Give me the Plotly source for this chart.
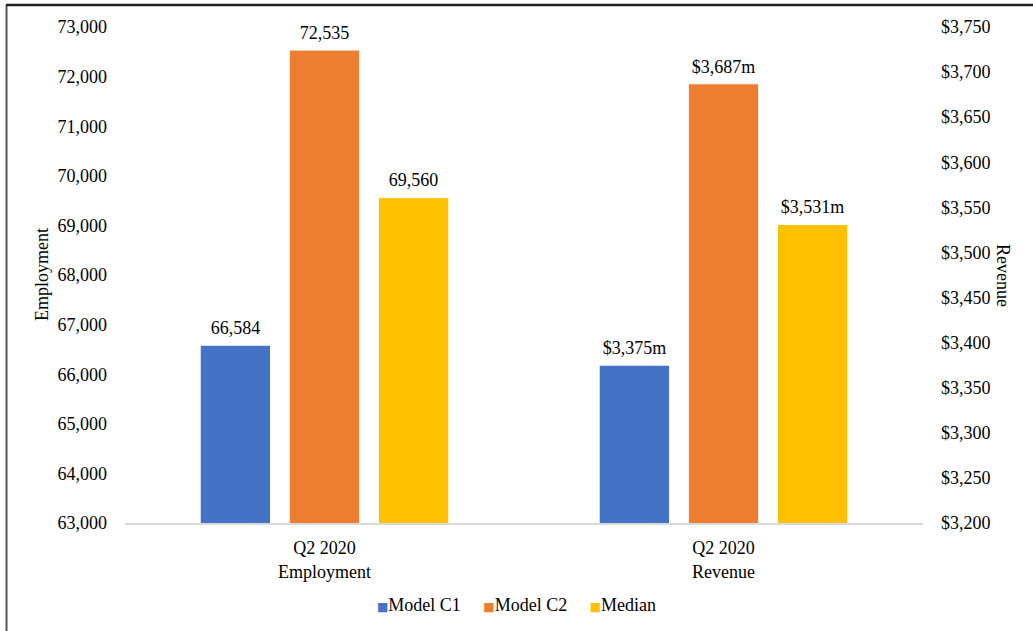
import plotly.graph_objects as go

series = ["Model C1", "Model C2", "Median"]
colors = ["#4472C4", "#ED7D31", "#FFC000"]
employment = [66584, 72535, 69560]
revenue = [3375, 3687, 3531]
cat_emp = "Q2 2020<br>Employment"
cat_rev = "Q2 2020<br>Revenue"

font = "Liberation Serif, Times New Roman, serif"
FS = 18

fig = go.Figure()
groups = [(cat_emp, employment, "y", "{:,}"), (cat_rev, revenue, "y2", "${:,}m")]
for gi, (cat, vals, yax, fmt) in enumerate(groups):
    for name, col, v in zip(series, colors, vals):
        fig.add_trace(go.Bar(
            x=[cat], y=[v], name=name,
            marker=dict(color=col, line=dict(color="white", width=1)),
            legendgroup=name, showlegend=False, yaxis=yax,
            offsetgroup=name, alignmentgroup=yax, hoverinfo="skip",
        ))
    for name, v in zip(series, vals):
        fig.add_trace(go.Scatter(
            x=[cat], y=[v], mode="markers+text", text=[fmt.format(v)],
            textposition="top center", cliponaxis=False,
            marker=dict(size=9, opacity=0), showlegend=False, yaxis=yax,
            offsetgroup=name, alignmentgroup=yax, hoverinfo="skip",
            textfont=dict(family=font, size=FS, color="#000000"),
        ))

# legend drawn as one line of text: small coloured square + series name
legend_text = ("\u00a0" * 5).join(
    f"<span style='color:{c};font-size:12px;font-family:DejaVu Sans'>\u25a0</span>{n}"
    for n, c in zip(series, colors)
)

fig.update_layout(
    width=1033, height=631,
    margin=dict(l=125, r=110, t=27, b=108, autoexpand=False),
    paper_bgcolor="white", plot_bgcolor="white",
    font=dict(family=font, size=FS, color="#000000"),
    barmode="group", bargap=0.33, bargroupgap=0.21,
    scattermode="group", scattergap=0.33,
    showlegend=False,
    xaxis=dict(categoryorder="array", categoryarray=[cat_emp, cat_rev],
               showline=True, linecolor="#D9D9D9", linewidth=1.5, ticks="",
               ticklabelstandoff=8,
               tickfont=dict(family=font, size=FS), showgrid=False),
    yaxis=dict(range=[63000, 73000], dtick=1000, tickformat=",", showgrid=False,
               zeroline=False, showline=False, ticks="", ticklabelstandoff=17,
               tickfont=dict(family=font, size=FS)),
    yaxis2=dict(range=[3200, 3750], dtick=50, tickprefix="$", tickformat=",",
                overlaying="y", side="right", showgrid=False, zeroline=False,
                showline=False, ticks="", ticklabelstandoff=17,
                tickfont=dict(family=font, size=FS)),
    annotations=[
        dict(text="Employment", textangle=-90, xref="paper", yref="paper",
             x=(42 - 125) / 798, y=0.5, xanchor="center", yanchor="middle",
             showarrow=False, font=dict(family=font, size=FS)),
        dict(text="Revenue", textangle=90, xref="paper", yref="paper",
             x=(1003 - 125) / 798, y=0.5, xanchor="center", yanchor="middle",
             showarrow=False, font=dict(family=font, size=FS)),
        dict(text=legend_text, xref="paper", yref="paper",
             x=(516 - 125) / 798, y=(523 - 605) / 496, xanchor="center", yanchor="middle",
             showarrow=False, font=dict(family=font, size=FS)),
    ],
    shapes=[
        dict(type="line", xref="paper", yref="paper",
             x0=(6.5 - 125) / 798, x1=(6.5 - 125) / 798,
             y0=1 + (27 - 5) / 496, y1=-108 / 496 - 0.01,
             line=dict(color="#555555", width=2)),
        dict(type="line", xref="paper", yref="paper",
             x0=(6 - 125) / 798, x1=(1040 - 125) / 798,
             y0=1 + (27 - 5) / 496, y1=1 + (27 - 5) / 496,
             line=dict(color="#222222", width=2.5)),
    ],
)

fig.write_html("out.html")
